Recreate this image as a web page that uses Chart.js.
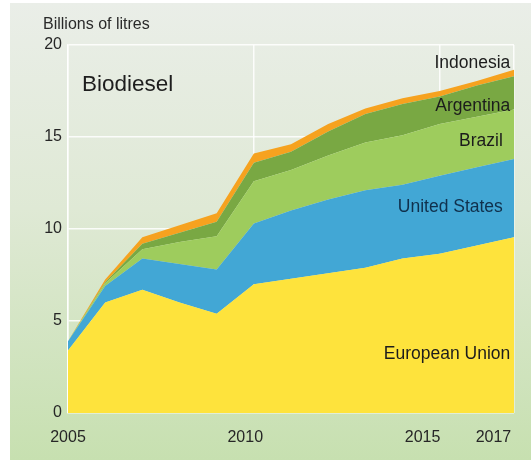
<!DOCTYPE html>
<html><head><meta charset="utf-8">
<script src="https://cdn.jsdelivr.net/npm/chart.js@4"></script>
<style>
html,body{margin:0;padding:0;background:#fff;}
#wrap{position:relative;width:531px;height:461px;overflow:hidden;}
#bg{position:absolute;left:10px;top:3px;width:521px;height:457px;background:linear-gradient(#eaeee8 0%,#dfe9d5 45%,#c7e0b0 100%);}
canvas{position:absolute;left:0;top:0;}
</style></head><body>
<div id="wrap"><div id="bg"></div><canvas id="c" width="531" height="461"></canvas></div>
<script>
const years = [2005,2006,2007,2008,2009,2010,2011,2012,2013,2014,2015,2016,2017];
const europeanUnion = [3.4,6.0,6.7,6.0,5.4,7.0,7.3,7.6,7.9,8.4,8.65,9.1,9.55];
const unitedStates  = [0.5,0.9,1.7,2.1,2.4,3.3,3.7,4.0,4.2,4.0,4.25,4.25,4.25];
const brazil        = [0.0,0.15,0.5,1.2,1.8,2.3,2.2,2.4,2.6,2.7,2.8,2.75,2.7];
const argentina     = [0.0,0.05,0.3,0.5,0.8,1.0,1.0,1.3,1.55,1.7,1.5,1.7,1.8];
const indonesia     = [0.0,0.15,0.35,0.4,0.45,0.5,0.4,0.4,0.3,0.3,0.3,0.25,0.35];
const seriesNames = ['European Union','United States','Brazil','Argentina','Indonesia'];
const yTicks = [0,5,10,15,20];
const xTicks = [2005,2010,2015,2017];
const unitLabel = 'Billions of litres';
const chartTitle = 'Biodiesel';

const seriesValues = [europeanUnion, unitedStates, brazil, argentina, indonesia];
const seriesColors = ['#fee33c','#42a7d5','#9ecc5d','#79a843','#f6a21f'];
const labelAnchors = [[2016.9,3.2],[2016.7,11.2],[2016.7,14.8],[2016.9,16.7],[2016.9,19.0]];
const labelColors = ['#1c1c1c','#10304c','#1c1c1c','#1c1c1c','#1c1c1c'];
const FONT = '"Liberation Sans", Arial, Helvetica, sans-serif';

const datasets = seriesValues.map((vals, i) => ({
  label: seriesNames[i],
  data: vals.map((v, j) => ({x: years[j], y: v})),
  backgroundColor: seriesColors[i],
  borderColor: seriesColors[i],
  borderWidth: 0,
  pointRadius: 0,
  tension: 0,
  fill: i === 0 ? 'origin' : '-1'
}));

const textPlugin = {
  id: 'texts',
  afterDatasetsDraw(chart) {
    const ctx = chart.ctx, xs = chart.scales.x, ys = chart.scales.y;
    ctx.save();
    ctx.textBaseline = 'middle';
    ctx.textAlign = 'left';
    ctx.fillStyle = '#2a2a2a';
    ctx.font = '16px ' + FONT;
    ctx.fillText(unitLabel, 43, 25);
    ctx.fillStyle = '#1e1e1e';
    ctx.font = '22.5px ' + FONT;
    ctx.fillText(chartTitle, 82, 85);
    ctx.textAlign = 'right';
    ctx.font = '17.5px ' + FONT;
    seriesNames.forEach((n, i) => {
      ctx.fillStyle = labelColors[i];
      ctx.fillText(n, xs.getPixelForValue(labelAnchors[i][0]), ys.getPixelForValue(labelAnchors[i][1]));
    });
    ctx.restore();
  }
};

new Chart(document.getElementById('c'), {
  type: 'line',
  data: { datasets },
  plugins: [textPlugin],
  options: {
    responsive: false,
    animation: false,
    layout: { padding: { left: 0, top: 45, right: 17, bottom: 0 } },
    plugins: { legend: { display: false }, tooltip: { enabled: false }, title: { display: false } },
    scales: {
      x: {
        type: 'linear', position: 'bottom', min: 2005, max: 2017,
        afterBuildTicks: s => { s.ticks = xTicks.map(v => ({value: v})); },
        afterFit: s => { s.height = 0; },
        ticks: { display: false },
        grid: { color: 'rgba(255,255,255,0.85)', lineWidth: 1.5, drawTicks: false },
        border: { display: false }
      },
      xt: {
        type: 'linear', position: 'bottom', min: 2005, max: 2017.58,
        afterBuildTicks: s => { s.ticks = xTicks.map(v => ({value: v})); },
        afterFit: s => { s.height = 48; },
        ticks: { padding: 15, color: '#262626', font: { size: 16, family: FONT }, maxRotation: 0, autoSkip: false, callback: v => String(v) },
        grid: { display: false, drawTicks: false },
        border: { display: false }
      },
      y: {
        stacked: true, min: 0, max: 20,
        afterBuildTicks: s => { s.ticks = yTicks.map(v => ({value: v})); },
        afterFit: s => { s.width = 68; },
        ticks: { padding: 6, color: '#262626', font: { size: 16, family: FONT } },
        grid: { color: 'rgba(255,255,255,0.85)', lineWidth: 1.5, drawTicks: false },
        border: { display: true, color: 'rgba(255,255,255,0.85)', width: 1.5 }
      }
    }
  }
});
</script>
</body></html>
